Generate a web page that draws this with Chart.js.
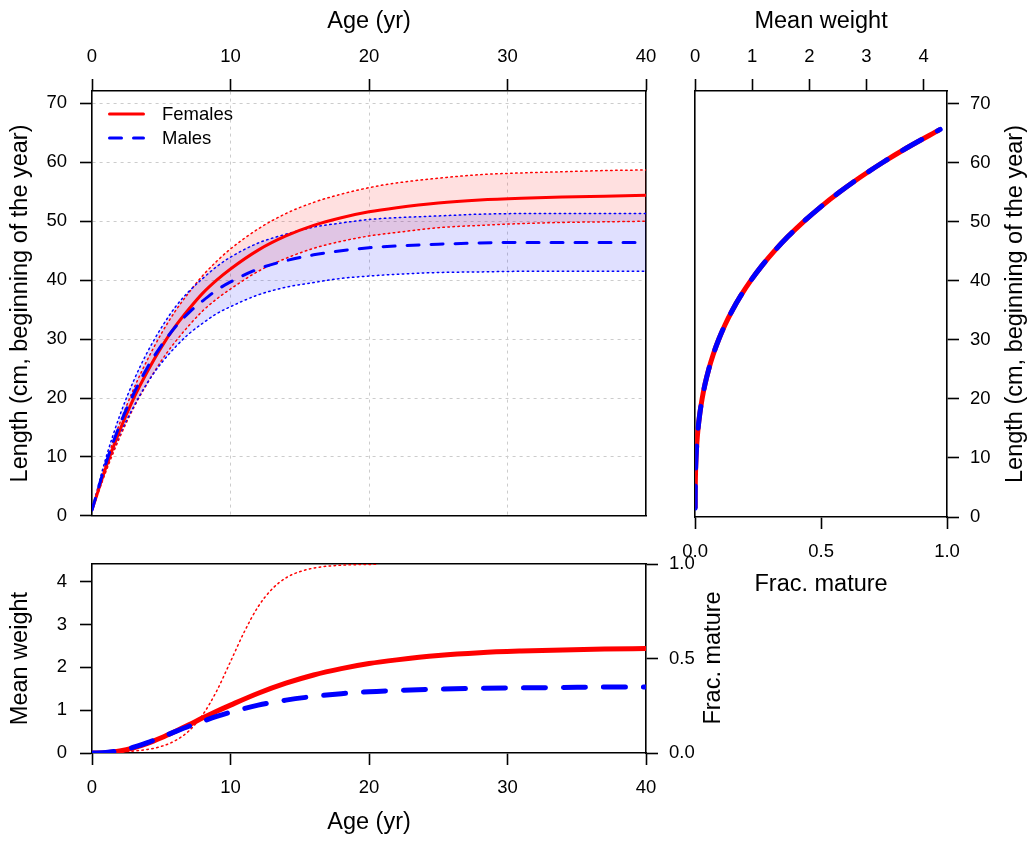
<!DOCTYPE html>
<html>
<head>
<meta charset="utf-8">
<script src="https://cdn.jsdelivr.net/npm/chart.js@4.4.1/dist/chart.umd.min.js"></script>
<style>
  body { margin: 0; background: #fff; }
  canvas { position: absolute; }
</style>
</head>
<body>
<canvas id="growth-chart" width="670" height="540" style="left:0;top:0"></canvas>
<canvas id="length-weight-chart" width="365" height="620" style="left:670px;top:0"></canvas>
<canvas id="weight-age-chart" width="760" height="301" style="left:0;top:540px"></canvas>
<script>
// growth by age (length, cm)
const ages = [0, 1, 2, 3, 4, 5, 6, 7, 8, 9, 10, 12, 14, 16, 18, 20, 22, 25, 28, 31, 34, 37, 40];
const femaleLen = [1.0, 8.2, 14.5, 19.9, 24.5, 28.6, 32.1, 35.1, 37.8, 40.0, 41.9, 45.1, 47.5, 49.3, 50.6, 51.6, 52.3, 53.1, 53.6, 53.9, 54.1, 54.25, 54.4];
const femaleLenHi = [1.1, 8.9, 15.7, 21.5, 26.5, 30.9, 34.7, 37.9, 40.8, 43.2, 45.3, 48.7, 51.3, 53.2, 54.6, 55.7, 56.5, 57.3, 57.9, 58.2, 58.4, 58.6, 58.7];
const femaleLenLo = [0.9, 7.5, 13.3, 18.3, 22.5, 26.3, 29.5, 32.3, 34.8, 36.8, 38.5, 41.5, 43.7, 45.4, 46.6, 47.5, 48.1, 48.9, 49.3, 49.6, 49.8, 49.9, 50.0];
const maleLen = [1.0, 8.9, 15.4, 20.7, 25.2, 28.9, 32.0, 34.5, 36.5, 38.3, 39.7, 41.9, 43.3, 44.3, 45.0, 45.5, 45.8, 46.1, 46.3, 46.4, 46.4, 46.4, 46.4];
const maleLenHi = [1.1, 9.8, 17.0, 22.9, 27.8, 31.9, 35.4, 38.1, 40.3, 42.3, 43.9, 46.3, 47.8, 49.0, 49.7, 50.3, 50.6, 50.9, 51.2, 51.3, 51.3, 51.3, 51.3];
const maleLenLo = [0.9, 8.0, 13.8, 18.5, 22.6, 25.9, 28.6, 30.9, 32.7, 34.3, 35.5, 37.5, 38.8, 39.6, 40.3, 40.7, 41.0, 41.3, 41.4, 41.5, 41.5, 41.5, 41.5];

// mean weight by age
const femaleWt = [0, 0.008, 0.046, 0.12, 0.224, 0.356, 0.503, 0.657, 0.821, 0.973, 1.118, 1.394, 1.629, 1.821, 1.969, 2.088, 2.174, 2.276, 2.341, 2.38, 2.407, 2.427, 2.44];
const maleWt = [0, 0.011, 0.056, 0.135, 0.243, 0.367, 0.498, 0.624, 0.739, 0.854, 0.951, 1.118, 1.234, 1.321, 1.385, 1.432, 1.46, 1.489, 1.509, 1.52, 1.53, 1.54, 1.54];

// maturity by age
const matAges = [0, 2, 4, 5, 6, 7, 8, 9, 10, 11, 12, 13, 14, 15, 16, 17, 18, 19, 20, 20.6];
const matFrac = [0.001, 0.005, 0.019, 0.035, 0.065, 0.117, 0.203, 0.328, 0.484, 0.642, 0.775, 0.868, 0.927, 0.96, 0.979, 0.989, 0.994, 0.997, 0.998, 0.999];

// weight at length
const lwLength = [1.5, 3, 5, 7.5, 10, 12.5, 15, 17.5, 20, 22.5, 25, 27.5, 30, 32.5, 35, 37.5, 40, 42.5, 45, 47.5, 50, 52.5, 55, 57.5, 60, 62.5, 65.6];
const lwWeight = [0.0001, 0.0004, 0.0019, 0.0064, 0.0152, 0.0297, 0.0513, 0.0815, 0.1216, 0.1731, 0.2375, 0.3161, 0.4104, 0.5218, 0.6517, 0.8016, 0.9728, 1.1668, 1.3851, 1.629, 1.9, 2.1995, 2.5289, 2.8897, 3.2832, 3.7109, 4.291];

// axis ticks
const ageTicks = [0, 10, 20, 30, 40];
const lengthTicks = [0, 10, 20, 30, 40, 50, 60, 70];
const weightTicks = [0, 1, 2, 3, 4];
const fracTicks = [0, 0.5, 1];
const fracLabels = ['0.0', '0.5', '1.0'];
const legendLabels = ['Females', 'Males'];

const FONT = "'Liberation Sans', Arial, Helvetica, sans-serif";
const tickFont = { family: FONT, size: 18.5 };
const titleFont = { family: FONT, size: 23.5 };
const RED = '#ff0000';
const BLUE = '#0000ff';

Chart.defaults.color = '#000';
Chart.defaults.font.family = FONT;

function pts(xs, ys) {
    return xs.map((x, i) => ({ x: x, y: ys[i] }));
}

function fixSize(size) {
    return function (scale) {
        if (scale.isHorizontal()) scale.height = size;
        else scale.width = size;
    };
}

// axis that only draws a side of the box
function frameAxis(position, size) {
    return {
        type: 'linear',
        position: position,
        afterFit: fixSize(size),
        ticks: { display: false },
        grid: { drawOnChartArea: false, drawTicks: false },
        border: { color: '#000', width: 1.6 }
    };
}

// axis with ticks, labels and an optional title / grid
function tickAxis(o) {
    return {
        type: 'linear',
        position: o.position,
        min: o.min,
        max: o.max,
        afterFit: fixSize(o.size),
        afterBuildTicks: function (scale) {
            scale.ticks = o.ticks.map(v => ({ value: v }));
        },
        ticks: {
            font: tickFont,
            padding: o.labelPad,
            maxRotation: 0,
            autoSkip: false,
            callback: o.labels ? (v) => o.labels[o.ticks.indexOf(v)] : (v) => String(v)
        },
        grid: {
            drawOnChartArea: !!o.grid,
            color: (ctx) => (o.grid && ctx.tick && o.grid.includes(ctx.tick.value)) ? '#cccccc' : 'rgba(0,0,0,0)',
            lineWidth: 1,
            tickLength: 12,
            tickWidth: 1.6,
            tickColor: '#000',
            tickBorderDash: []
        },
        border: { color: '#000', width: 1.6, dash: [3, 4] },
        title: o.title ? {
            display: true,
            text: o.title,
            font: titleFont,
            padding: o.titlePad
        } : { display: false }
    };
}

const baseOptions = {
    responsive: false,
    animation: false,
    devicePixelRatio: 1,
    layout: { padding: 0 },
    elements: { point: { radius: 0 }, line: { cubicInterpolationMode: 'monotone' } },
    plugins: {
        legend: { display: false },
        tooltip: { enabled: false },
        filler: { drawTime: 'beforeDatasetsDraw' }
    }
};

// legend in the top-left corner of the growth panel
const sexLegend = {
    id: 'sexLegend',
    afterDraw(chart) {
        const ctx = chart.ctx;
        const colors = [RED, BLUE];
        const dashes = [[], [12, 12]];
        ctx.save();
        legendLabels.forEach((label, i) => {
            const y = 114 + i * 24;
            ctx.beginPath();
            ctx.strokeStyle = colors[i];
            ctx.lineWidth = 3;
            ctx.lineCap = 'round';
            ctx.setLineDash(dashes[i]);
            ctx.moveTo(109.5, y);
            ctx.lineTo(143.5, y);
            ctx.stroke();
            ctx.setLineDash([]);
            ctx.fillStyle = '#000';
            ctx.font = '18.5px ' + FONT;
            ctx.textBaseline = 'middle';
            ctx.textAlign = 'left';
            ctx.fillText(label, 162, y + 1);
        });
        ctx.restore();
    }
};

// rotated title on a right-hand axis, read from bottom to top
function sideTitle(text, x, y) {
    return {
        id: 'sideTitle',
        afterDraw(chart) {
            const ctx = chart.ctx;
            ctx.save();
            ctx.translate(x, y);
            ctx.rotate(-Math.PI / 2);
            ctx.fillStyle = '#000';
            ctx.font = '23.5px ' + FONT;
            ctx.textAlign = 'center';
            ctx.textBaseline = 'middle';
            ctx.fillText(text, 0, 0);
            ctx.restore();
        }
    };
}

const dotted = { borderWidth: 1.5, borderDash: [1.5, 3.5], borderCapStyle: 'round' };

const growthChart = new Chart(document.getElementById('growth-chart'), {
    type: 'line',
    data: {
        datasets: [
            Object.assign({ data: pts(ages, femaleLenHi), borderColor: RED, fill: '+1', backgroundColor: 'rgba(255,0,0,0.12)', order: 6 }, dotted),
            Object.assign({ data: pts(ages, femaleLenLo), borderColor: RED, fill: false, order: 5 }, dotted),
            Object.assign({ data: pts(ages, maleLenHi), borderColor: BLUE, fill: '+1', backgroundColor: 'rgba(0,0,255,0.12)', order: 4 }, dotted),
            Object.assign({ data: pts(ages, maleLenLo), borderColor: BLUE, fill: false, order: 3 }, dotted),
            { label: 'Females', data: pts(ages, femaleLen), borderColor: RED, borderWidth: 3, fill: false, order: 2 },
            { label: 'Males', data: pts(ages, maleLen), borderColor: BLUE, borderWidth: 3, borderDash: [12, 12], borderCapStyle: 'round', fill: false, order: 1 }
        ]
    },
    options: Object.assign({}, baseOptions, {
        scales: {
            x: tickAxis({ position: 'top', min: 0, max: 40, size: 91, ticks: ageTicks, labelPad: 10.5, grid: [10, 20, 30], title: 'Age (yr)', titlePad: { top: 7.6, bottom: 0 } }),
            y: tickAxis({ position: 'left', min: 0, max: 72.1, size: 92, ticks: lengthTicks, labelPad: 13, grid: [10, 20, 30, 40, 50, 60, 70], title: 'Length (cm, beginning of the year)', titlePad: { top: 6.9, bottom: 0 } }),
            xB: frameAxis('bottom', 23),
            yR: frameAxis('right', 24)
        }
    }),
    plugins: [sexLegend]
});

const lengthWeightChart = new Chart(document.getElementById('length-weight-chart'), {
    type: 'line',
    data: {
        datasets: [
            { label: 'Females', data: pts(lwWeight, lwLength), xAxisID: 'xw', yAxisID: 'y', borderColor: RED, borderWidth: 5, fill: false, order: 2 },
            { label: 'Males', data: pts(lwWeight, lwLength), xAxisID: 'xw', yAxisID: 'y', borderColor: BLUE, borderWidth: 5, borderDash: [22, 18], borderCapStyle: 'round', fill: false, order: 1 }
        ]
    },
    options: Object.assign({}, baseOptions, {
        scales: {
            xw: tickAxis({ position: 'top', min: 0, max: 4.41, size: 91, ticks: weightTicks, labelPad: 10.5, title: 'Mean weight', titlePad: { top: 7.6, bottom: 0 } }),
            xm: tickAxis({ position: 'bottom', min: 0, max: 1, size: 103, ticks: fracTicks, labels: fracLabels, labelPad: 12.3, title: 'Frac. mature', titlePad: { top: 0, bottom: 20.9 } }),
            y: tickAxis({ position: 'right', min: 0, max: 72.1, size: 88, ticks: lengthTicks, labelPad: 11 }),
            yL: frameAxis('left', 23)
        }
    }),
    plugins: [sideTitle('Length (cm, beginning of the year)', 346, 304)]
});

const weightAgeChart = new Chart(document.getElementById('weight-age-chart'), {
    type: 'line',
    data: {
        datasets: [
            Object.assign({ label: 'Frac. mature', data: pts(matAges, matFrac), xAxisID: 'x', yAxisID: 'ym', borderColor: RED, fill: false, order: 3 }, dotted),
            { label: 'Females', data: pts(ages, femaleWt), xAxisID: 'x', yAxisID: 'y', borderColor: RED, borderWidth: 5, fill: false, order: 2 },
            { label: 'Males', data: pts(ages, maleWt), xAxisID: 'x', yAxisID: 'y', borderColor: BLUE, borderWidth: 5, borderDash: [22, 18], borderCapStyle: 'round', fill: false, order: 1 }
        ]
    },
    options: Object.assign({}, baseOptions, {
        scales: {
            x: tickAxis({ position: 'bottom', min: 0, max: 40, size: 88, ticks: ageTicks, labelPad: 12.3, title: 'Age (yr)', titlePad: { top: 0, bottom: 3.9 } }),
            y: tickAxis({ position: 'left', min: 0, max: 4.41, size: 92, ticks: weightTicks, labelPad: 13, title: 'Mean weight', titlePad: { top: 6.9, bottom: 0 } }),
            ym: tickAxis({ position: 'right', min: 0, max: 1, size: 114, ticks: fracTicks, labels: fracLabels, labelPad: 11 }),
            xT: frameAxis('top', 23)
        }
    }),
    plugins: [sideTitle('Frac. mature', 714, 118)]
});
</script>
</body>
</html>
